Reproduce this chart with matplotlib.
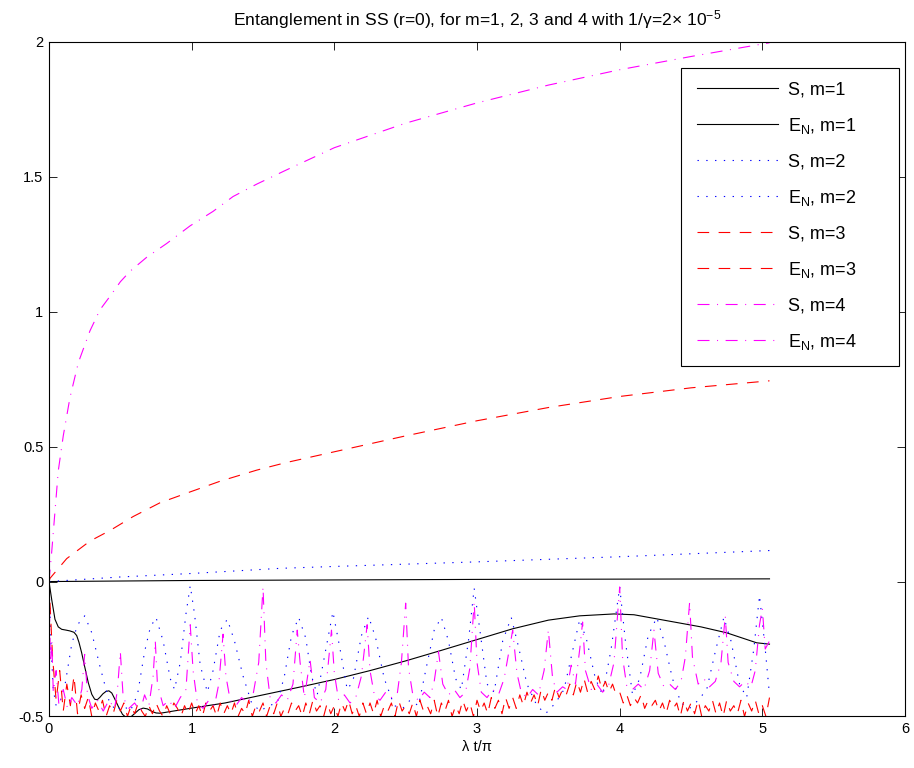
import numpy as np
import matplotlib
matplotlib.use("Agg")
import matplotlib.pyplot as plt
from matplotlib.patches import Rectangle

plt.rcParams.update({
    "font.family": "Liberation Sans",
    "font.size": 10.5,
    "mathtext.fontset": "custom",
    "mathtext.rm": "Liberation Sans",
    "mathtext.it": "Liberation Sans:italic",
    "mathtext.default": "regular",
    "axes.unicode_minus": False,
})

# S (entropy) curves
s1_x = [0, 1.0, 2.0, 3.0, 4.0, 5.05]
s1_y = [0, 0.004, 0.006, 0.008, 0.009, 0.01]

s2_x = [0, 0.5, 1.0, 1.62, 2.0, 3.0, 4.0, 5.05]
s2_y = [0, 0.017, 0.03, 0.049, 0.056, 0.073, 0.092, 0.115]

s3_x = [0, 0.007, 0.124, 0.287, 0.43, 0.59, 0.778, 0.988, 1.2, 1.456, 1.654,
        2.0, 2.5, 3.0, 3.5, 4.0, 4.5, 5.05]
s3_y = [0, 0.012, 0.085, 0.15, 0.19, 0.241, 0.292, 0.332, 0.372, 0.413, 0.44,
        0.481, 0.54, 0.596, 0.645, 0.686, 0.718, 0.744]

s4_x = [0, 0.019, 0.065, 0.10, 0.147, 0.206, 0.287, 0.357, 0.43, 0.50, 0.568,
        0.685, 0.825, 0.988, 1.15, 1.29, 1.456, 1.654, 2.0, 2.5, 3.0, 3.5,
        4.0, 4.5, 5.05]
s4_y = [0, 0.11, 0.41, 0.54, 0.682, 0.812, 0.929, 1.007, 1.059, 1.111, 1.15,
        1.202, 1.253, 1.318, 1.372, 1.427, 1.473, 1.523, 1.608, 1.699, 1.774,
        1.84, 1.897, 1.946, 1.997]

# E_N curves (negative, clipped at -0.5)
en1_x = [0, 0.02, 0.042, 0.065, 0.089, 0.12, 0.147, 0.175, 0.194, 0.21, 0.229,
         0.25, 0.276, 0.30, 0.32, 0.338, 0.355, 0.378, 0.40, 0.42, 0.44, 0.462,
         0.486, 0.515, 0.545, 0.575, 0.603, 0.63, 0.66, 0.69, 0.72, 0.75, 0.78,
         0.86, 1.0, 1.234, 1.5, 1.75, 2.0, 2.25, 2.5, 2.75, 3.0, 3.25, 3.5,
         3.72, 3.96, 4.1, 4.33, 4.57, 4.75, 4.96, 5.05]
en1_y = [0, -0.07, -0.14, -0.168, -0.177, -0.18, -0.183, -0.188, -0.2, -0.225,
         -0.264, -0.315, -0.376, -0.418, -0.436, -0.438, -0.43, -0.416, -0.407,
         -0.405, -0.413, -0.436, -0.463, -0.492, -0.506, -0.501, -0.488, -0.475,
         -0.469, -0.472, -0.481, -0.487, -0.488, -0.481, -0.469, -0.45, -0.42,
         -0.392, -0.363, -0.33, -0.294, -0.255, -0.215, -0.175, -0.143, -0.127,
         -0.12, -0.123, -0.145, -0.168, -0.19, -0.227, -0.232]

en2_x = [0.00, 0.015, 0.03, 0.05, 0.08, 0.11, 0.16, 0.20, 0.25, 0.30, 0.355,
         0.42, 0.47, 0.52, 0.57, 0.62, 0.67, 0.71, 0.75, 0.80, 0.85, 0.88,
         0.92, 0.96, 0.99, 1.02, 1.06, 1.11, 1.15, 1.20, 1.25, 1.30, 1.36,
         1.42, 1.48, 1.54, 1.60, 1.65, 1.70, 1.75, 1.80, 1.84, 1.88, 1.93,
         1.99, 2.04, 2.09, 2.13, 2.19, 2.24, 2.29, 2.35, 2.42, 2.48, 2.53,
         2.59, 2.64, 2.70, 2.75, 2.80, 2.85, 2.89, 2.94, 2.98, 3.02, 3.07,
         3.12, 3.18, 3.24, 3.29, 3.35, 3.42, 3.48, 3.55, 3.61, 3.66, 3.72,
         3.77, 3.83, 3.88, 3.94, 4.00, 4.04, 4.09, 4.14, 4.20, 4.26, 4.31,
         4.37, 4.43, 4.49, 4.55, 4.61, 4.67, 4.73, 4.78, 4.84, 4.89, 4.94,
         4.98, 5.02, 5.05]
en2_y = [0.00, -0.25, -0.40, -0.46, -0.44, -0.39, -0.23, -0.16, -0.127, -0.19,
         -0.31, -0.44, -0.48, -0.46, -0.48, -0.42, -0.26, -0.17, -0.133, -0.22,
         -0.36, -0.40, -0.30, -0.12, -0.015, -0.12, -0.31, -0.41, -0.33, -0.18,
         -0.14, -0.22, -0.35, -0.45, -0.48, -0.46, -0.45, -0.35, -0.20, -0.133,
         -0.21, -0.35, -0.42, -0.28, -0.112, -0.25, -0.40, -0.37, -0.20, -0.129,
         -0.21, -0.36, -0.46, -0.47, -0.44, -0.46, -0.33, -0.18, -0.133, -0.22,
         -0.36, -0.40, -0.22, -0.025, -0.18, -0.38, -0.41, -0.22, -0.133, -0.24,
         -0.38, -0.46, -0.49, -0.45, -0.40, -0.28, -0.14, -0.22, -0.36, -0.42,
         -0.25, -0.02, -0.22, -0.42, -0.36, -0.20, -0.133, -0.22, -0.36, -0.45,
         -0.47, -0.44, -0.40, -0.26, -0.133, -0.22, -0.38, -0.43, -0.25, -0.052,
         -0.25, -0.42]

# red E_N, m=3: one value every 0.025 in x from 0 to 5.05
en3_y = [
    0.0, -0.28, -0.44, -0.33, -0.48, -0.38, -0.46, -0.35, -0.49, -0.42,
    -0.47, -0.43, -0.50, -0.45, -0.48, -0.44, -0.50, -0.46, -0.49, -0.44,
    -0.48, -0.45, -0.50, -0.46, -0.49, -0.45, -0.48, -0.50, -0.46, -0.49,
    -0.45, -0.48, -0.50, -0.46, -0.49, -0.45, -0.47, -0.50, -0.46, -0.49,
    -0.45, -0.49, -0.46, -0.50, -0.45, -0.48, -0.46, -0.50, -0.45, -0.49,
    -0.46, -0.49, -0.45, -0.50, -0.47, -0.49, -0.44, -0.50, -0.46, -0.48,
    -0.45, -0.50, -0.46, -0.49, -0.45, -0.50, -0.47, -0.49, -0.45, -0.48,
    -0.46, -0.50, -0.45, -0.49, -0.44, -0.48, -0.46, -0.50, -0.45, -0.49,
    -0.46, -0.50, -0.45, -0.48, -0.44, -0.49, -0.46, -0.50, -0.45, -0.49,
    -0.45, -0.49, -0.44, -0.50, -0.46, -0.48, -0.45, -0.50, -0.44, -0.48,
    -0.46, -0.49, -0.45, -0.50, -0.44, -0.48, -0.46, -0.49, -0.44, -0.50,
    -0.45, -0.48, -0.44, -0.50, -0.46, -0.49, -0.44, -0.48, -0.45, -0.50,
    -0.44, -0.48, -0.45, -0.49, -0.43, -0.47, -0.44, -0.49, -0.43, -0.47,
    -0.43, -0.47, -0.42, -0.46, -0.41, -0.45, -0.42, -0.46, -0.40, -0.44,
    -0.41, -0.44, -0.39, -0.43, -0.40, -0.42, -0.38, -0.42, -0.37, -0.41,
    -0.36, -0.41, -0.37, -0.40, -0.35, -0.40, -0.37, -0.41, -0.38, -0.42,
    -0.41, -0.45, -0.42, -0.46, -0.43, -0.45, -0.42, -0.47, -0.44, -0.46,
    -0.44, -0.48, -0.45, -0.49, -0.44, -0.47, -0.45, -0.50, -0.44, -0.48,
    -0.45, -0.49, -0.44, -0.50, -0.46, -0.48, -0.44, -0.49, -0.45, -0.50,
    -0.44, -0.48, -0.46, -0.49, -0.44, -0.50, -0.45, -0.48, -0.44, -0.49,
    -0.46, -0.50, -0.43,
]
en3_x = np.linspace(0, 5.05, len(en3_y))

en4_x = [0.0, 0.01, 0.02, 0.03, 0.05, 0.07, 0.10, 0.13, 0.16, 0.20, 0.23, 0.25,
         0.27, 0.30, 0.34, 0.38, 0.42, 0.46, 0.48, 0.50, 0.52, 0.56, 0.60, 0.64,
         0.67, 0.70, 0.73, 0.745, 0.76, 0.80, 0.84, 0.88, 0.92, 0.96, 0.99, 1.01,
         1.04, 1.08, 1.12, 1.16, 1.19, 1.22, 1.24, 1.27, 1.31, 1.35, 1.39, 1.43,
         1.47, 1.50, 1.52, 1.55, 1.59, 1.63, 1.67, 1.71, 1.74, 1.76, 1.79, 1.83,
         1.86, 1.90, 1.94, 1.98, 2.00, 2.03, 2.07, 2.11, 2.15, 2.19, 2.23, 2.25,
         2.28, 2.32, 2.36, 2.40, 2.44, 2.47, 2.50, 2.52, 2.55, 2.59, 2.63, 2.67,
         2.70, 2.73, 2.76, 2.80, 2.84, 2.88, 2.92, 2.95, 2.98, 3.00, 3.03, 3.07,
         3.11, 3.15, 3.19, 3.25, 3.28, 3.31, 3.35, 3.39, 3.43, 3.47, 3.50, 3.53,
         3.56, 3.60, 3.63, 3.66, 3.69, 3.72, 3.74, 3.76, 3.80, 3.84, 3.88, 3.92,
         3.96, 4.00, 4.02, 4.05, 4.09, 4.13, 4.17, 4.21, 4.24, 4.27, 4.31, 4.35,
         4.39, 4.43, 4.46, 4.49, 4.51, 4.55, 4.59, 4.63, 4.67, 4.71, 4.74, 4.76,
         4.80, 4.84, 4.88, 4.92, 4.95, 4.98, 5.00, 5.02, 5.05]
en4_y = [0.0, -0.30, -0.22, -0.41, -0.33, -0.46, -0.40, -0.47, -0.43, -0.46,
         -0.40, -0.27, -0.42, -0.47, -0.44, -0.48, -0.44, -0.47, -0.40, -0.26,
         -0.43, -0.47, -0.45, -0.48, -0.42, -0.46, -0.35, -0.22, -0.38, -0.46,
         -0.44, -0.47, -0.43, -0.40, -0.16, -0.33, -0.45, -0.47, -0.44, -0.46,
         -0.38, -0.195, -0.35, -0.44, -0.46, -0.43, -0.45, -0.42, -0.30, -0.02,
         -0.30, -0.43, -0.45, -0.42, -0.44, -0.38, -0.18, -0.30, -0.43, -0.29,
         -0.43, -0.45, -0.40, -0.18, -0.34, -0.44, -0.42, -0.45, -0.43, -0.35,
         -0.16, -0.33, -0.42, -0.44, -0.41, -0.43, -0.42, -0.30, -0.08, -0.32,
         -0.42, -0.44, -0.41, -0.43, -0.37, -0.26, -0.38, -0.42, -0.40, -0.43,
         -0.41, -0.32, -0.075, -0.30, -0.41, -0.43, -0.40, -0.42, -0.36, -0.18,
         -0.34, -0.41, -0.43, -0.40, -0.42, -0.33, -0.18, -0.36, -0.41, -0.39,
         -0.40, -0.31, -0.38, -0.25, -0.15, -0.33, -0.40, -0.38, -0.41, -0.39,
         -0.30, -0.02, -0.28, -0.39, -0.40, -0.38, -0.40, -0.33, -0.18, -0.34,
         -0.39, -0.38, -0.40, -0.37, -0.28, -0.077, -0.28, -0.38, -0.36, -0.39,
         -0.37, -0.30, -0.127, -0.30, -0.37, -0.39, -0.37, -0.39, -0.33, -0.16,
         -0.10, -0.25, -0.22]

X_TICKS = [0, 1, 2, 3, 4, 5, 6]
Y_TICKS = [-0.5, 0, 0.5, 1, 1.5, 2]
Y_TICK_LABELS = ["-0.5", "0", "0.5", "1", "1.5", "2"]

BLUE = (0, 0, 1)
RED = (1, 0, 0)
MAGENTA = (1, 0, 1)

DOT = (0, (1.2, 6.7))
DASH = (0, (10.5, 8.5))
DASHDOT = (0, (10.8, 6.8, 0.9, 6.8))
LW = 0.8

fig = plt.figure(figsize=(9.14, 7.68), dpi=100)
ax = fig.add_axes([0.0536, 0.0671, 0.9366, 0.8783])

ax.plot(s1_x, s1_y, color="k", lw=LW, label="S, m=1")
ax.plot(en1_x, en1_y, color="k", lw=LW, label="E$_N$, m=1")
ax.plot(s2_x, s2_y, color=BLUE, lw=LW, ls=DOT, label="S, m=2")
ax.plot(en2_x, en2_y, color=BLUE, lw=LW, ls=DOT, label="E$_N$, m=2")
ax.plot(s3_x, s3_y, color=RED, lw=LW, ls=DASH, label="S, m=3")
ax.plot(en3_x, en3_y, color=RED, lw=LW, ls=DASH, label="E$_N$, m=3")
ax.plot(s4_x, s4_y, color=MAGENTA, lw=LW, ls=DASHDOT, label="S, m=4")
ax.plot(en4_x, en4_y, color=MAGENTA, lw=LW, ls=DASHDOT, label="E$_N$, m=4")

ax.set_xlim(0, 6)
ax.set_ylim(-0.5, 2)
ax.set_xticks(X_TICKS)
ax.set_xticklabels([str(t) for t in X_TICKS])
ax.set_yticks(Y_TICKS)
ax.set_yticklabels(Y_TICK_LABELS)
ax.tick_params(direction="in", length=5.5, width=0.6, top=True, right=True, pad=4)
for sp in ax.spines.values():
    sp.set_linewidth(0.8)

ax.set_xlabel("λ t/π", labelpad=3)
ax.set_title("Entanglement in SS (r=0), for m=1, 2, 3 and 4 with 1/γ=2× 10$^{-5}$", pad=12)

# legend box like MATLAB's: fixed frame, entries left aligned inside it
box = Rectangle((0.7383, 0.5197), 0.2547, 0.4418, transform=ax.transAxes,
                facecolor="white", edgecolor="k", lw=0.8, zorder=4)
ax.add_patch(box)
leg = ax.legend(loc="upper left", bbox_to_anchor=(0.7383, 0.966),
                borderaxespad=0, fontsize=13, handlelength=4.45, handletextpad=0.55,
                labelspacing=0.97, borderpad=0.9, frameon=False)
leg.set_zorder(5)

plt.savefig("out.png", dpi=100)
plt.close()
